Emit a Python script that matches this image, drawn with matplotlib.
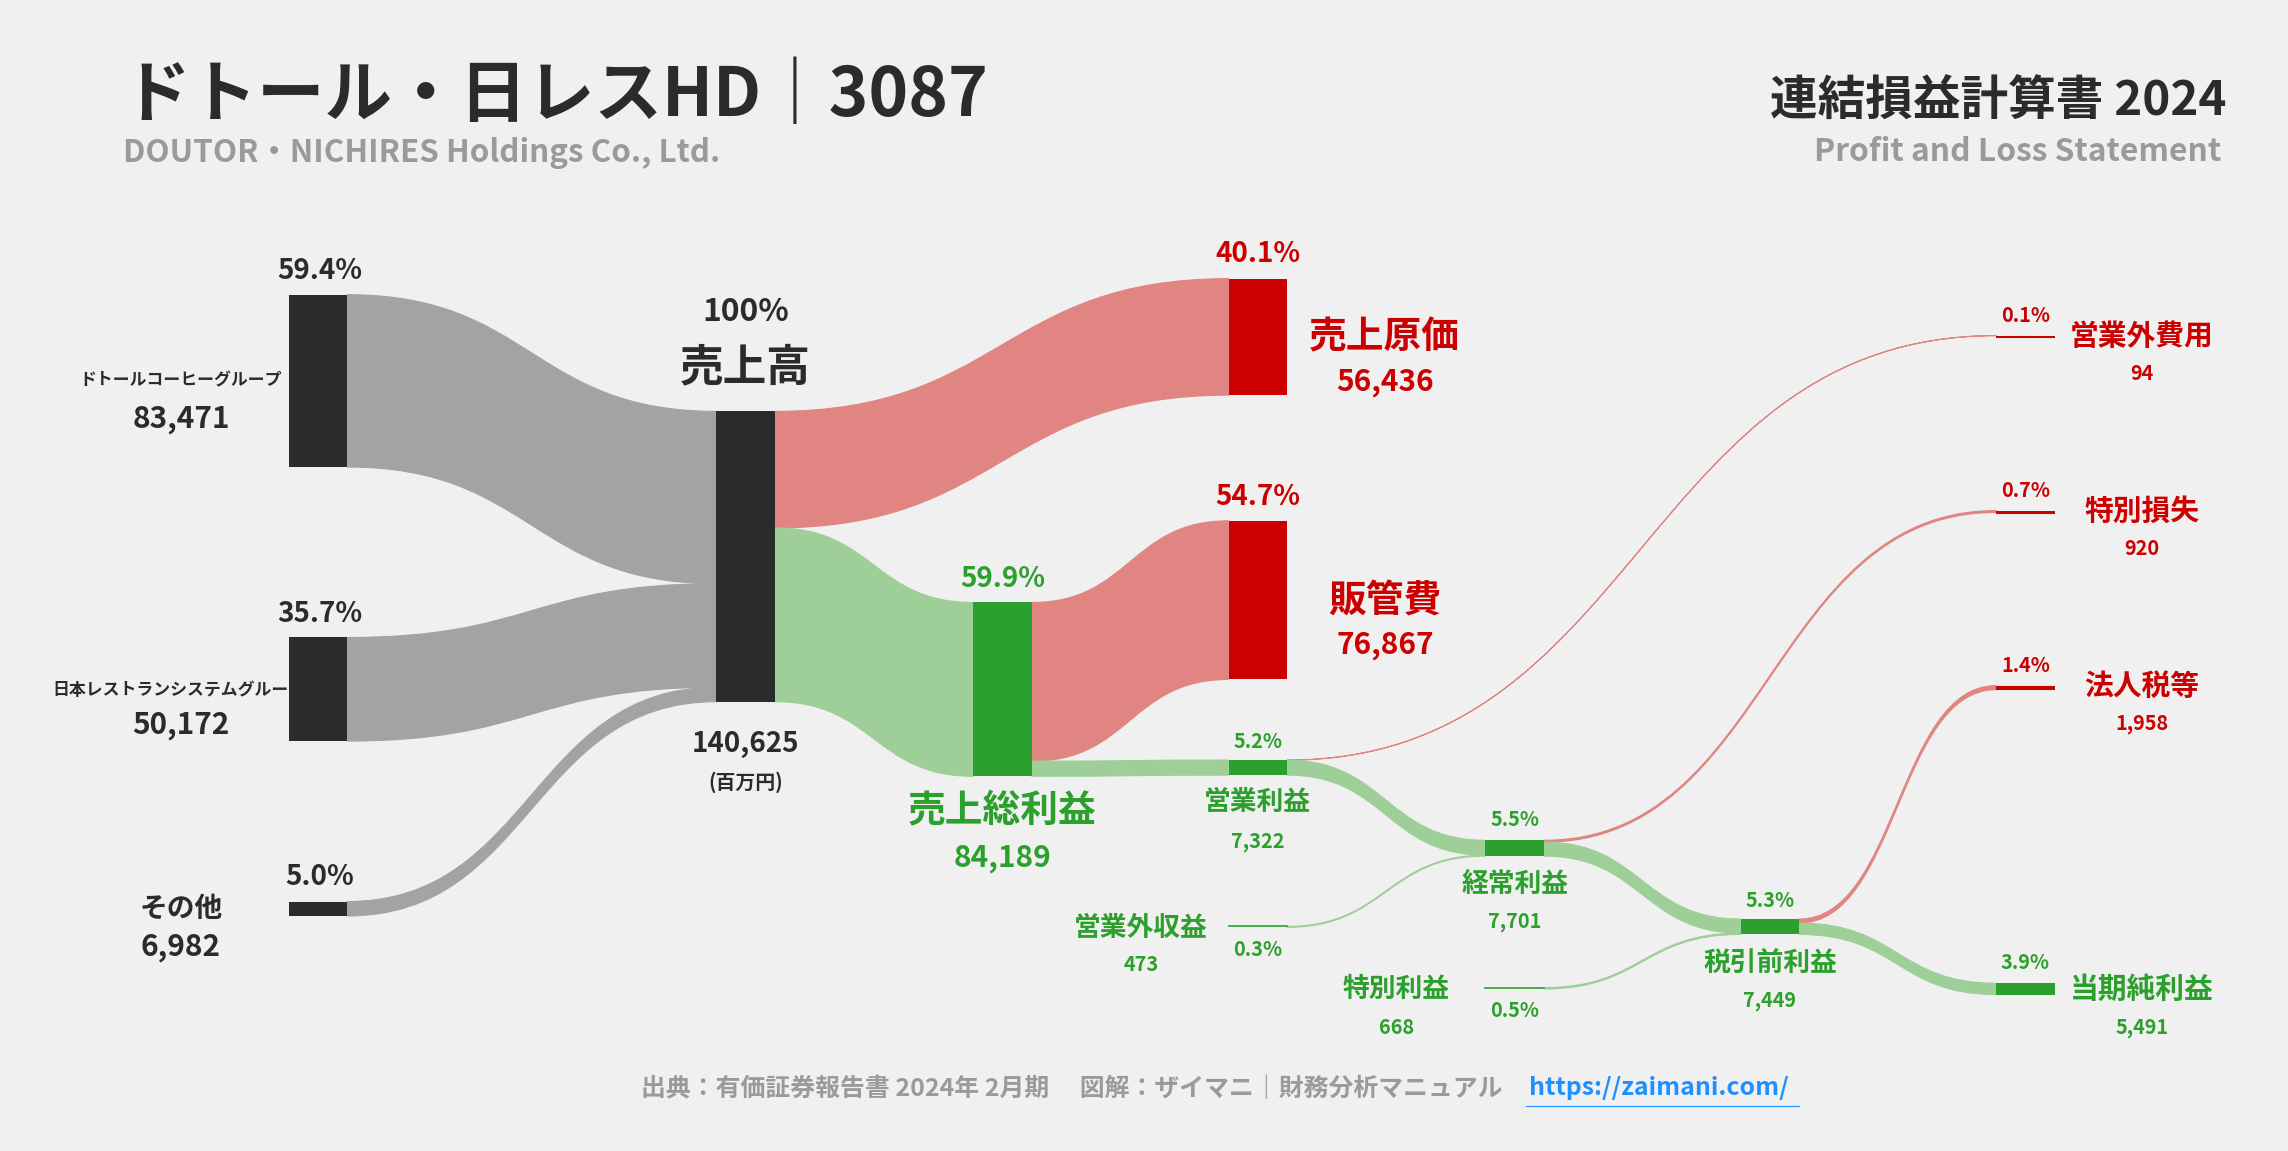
import matplotlib
matplotlib.use("Agg")
import matplotlib.pyplot as plt
from matplotlib.path import Path
from matplotlib.patches import PathPatch, Rectangle

# ---------------- data (百万円) ----------------
segment_names = ["ドトールコーヒーグループ", "日本レストランシステムグルー", "その他"]
segment_values = [83471, 50172, 6982]
revenue = 140625
cogs = 56436
gross = 84189
sga = 76867
op_income = 7322
nonop_income = 473
nonop_expense = 94
ordinary = 7701
special_gain = 668
special_loss = 920
pretax = 7449
tax = 1958
net = 5491

FONT = "Noto Sans CJK JP"
plt.rcParams["font.family"] = FONT
BG = "#f0f0f0"
DARK = "#2b2b2b"
RED = "#cc0000"
GREEN = "#2ca02c"
GRAYF = "#a3a3a3"
REDF = "#e08582"
GREENF = "#9ecf98"
S = 1.43

W, H = 1568, 789
fig = plt.figure(figsize=(22.88, 11.51), dpi=100, facecolor=BG)
ax = fig.add_axes([0, 0, 1, 1])
ax.set_xlim(0, W); ax.set_ylim(H, 0); ax.axis("off"); ax.set_facecolor(BG)

k = 199.0 / revenue  # px per unit
NW = 40

def pct(v):
    return f"{v / revenue * 100:.1f}%"

def node(x, top, v, color):
    h = max(v * k, 2)
    ax.add_patch(Rectangle((x, top), NW, h, color=color, zorder=3, lw=0))
    return h

def band(x0, t0, x1, t1, v, color, alpha=1.0):
    h = v * k
    xm = (x0 + x1) / 2
    verts = [(x0, t0), (xm, t0), (xm, t1), (x1, t1),
             (x1, t1 + h), (xm, t1 + h), (xm, t0 + h), (x0, t0 + h), (x0, t0)]
    codes = [Path.MOVETO, Path.CURVE4, Path.CURVE4, Path.CURVE4,
             Path.LINETO, Path.CURVE4, Path.CURVE4, Path.CURVE4, Path.CLOSEPOLY]
    ax.add_patch(PathPatch(Path(verts, codes), facecolor=color, edgecolor=color,
                           lw=0.8, alpha=alpha, zorder=2))

def t(x, y, s, size, color=DARK, ha="center", va="center", weight="bold"):
    ax.text(x, y, s, fontsize=size * S, color=color, ha=ha, va=va, fontweight=weight, family=FONT)

X0, X1, X2, X3, X4, X5, X6 = 198, 491, 667, 842, 1018, 1193, 1368

seg_tops = [202, 437, 618]
rev_top = 282
acc = rev_top
for name, v, top in zip(segment_names, segment_values, seg_tops):
    node(X0, top, v, DARK)
    band(X0 + NW, top, X1, acc, v, GRAYF)
    acc += v * k
node(X1, rev_top, revenue, DARK)

cogs_top = 191
gross_top = 413
node(X3, cogs_top, cogs, RED)
band(X1 + NW, rev_top, X3, cogs_top, cogs, REDF)
node(X2, gross_top, gross, GREEN)
band(X1 + NW, rev_top + cogs * k, X2, gross_top, gross, GREENF)

sga_top = 357
op_top = 521
node(X3, sga_top, sga, RED)
band(X2 + NW, gross_top, X3, sga_top, sga, REDF)
node(X3, op_top, op_income, GREEN)
band(X2 + NW, gross_top + sga * k, X3, op_top, op_income, GREENF)

ord_top = 576
nexp_top = 230
node(X6, nexp_top, nonop_expense, RED)
band(X3 + NW, op_top, X6, nexp_top, nonop_expense, REDF)
band(X3 + NW, op_top + nonop_expense * k, X4, ord_top, op_income - nonop_expense, GREENF)
ninc_top = 635
ax.plot([X3, X3 + NW], [ninc_top, ninc_top], color=GREEN, lw=1.2, zorder=3)
band(X3 + NW, ninc_top, X4, ord_top + (op_income - nonop_expense) * k, nonop_income, GREENF)
node(X4, ord_top, ordinary, GREEN)

pre_top = 630
sloss_top = 350
node(X6, sloss_top, special_loss, RED)
band(X4 + NW, ord_top, X6, sloss_top, special_loss, REDF)
band(X4 + NW, ord_top + special_loss * k, X5, pre_top, ordinary - special_loss, GREENF)
sg_top = 677
ax.plot([X4, X4 + NW], [sg_top, sg_top], color=GREEN, lw=1.2, zorder=3)
band(X4 + NW, sg_top, X5, pre_top + (ordinary - special_loss) * k, special_gain, GREENF)
node(X5, pre_top, pretax, GREEN)

tax_top = 470
net_top = 674
node(X6, tax_top, tax, RED)
band(X5 + NW, pre_top, X6, tax_top, tax, REDF)
node(X6, net_top, net, GREEN)
band(X5 + NW, pre_top + tax * k, X6, net_top, net, GREENF)

# ---------------- labels ----------------
t(84, 66, "ドトール・日レスHD｜3087", 34, ha="left")
t(84, 105, "DOUTOR・NICHIRES Holdings Co., Ltd.", 15.8, color="#9a9a9a", ha="left")
t(1526, 70, "連結損益計算書 2024", 24, ha="right")
t(1522, 104, "Profit and Loss Statement", 16, color="#9a9a9a", ha="right")

t(219, 186, pct(segment_values[0]), 14)
t(124, 261, segment_names[0], 8.5)
t(124, 287, f"{segment_values[0]:,}", 15)
t(219, 421, pct(segment_values[1]), 14)
t(117, 473, segment_names[1], 8.5)
t(124, 497, f"{segment_values[1]:,}", 15)
t(219, 601, pct(segment_values[2]), 14)
t(124, 623, segment_names[2], 14)
t(124, 649, f"{segment_values[2]:,}", 15)

t(511, 214, "100%", 16)
t(511, 252, "売上高", 22)
t(511, 510, f"{revenue:,}", 14)
t(511, 536, "(百万円)", 10)

t(862, 174, pct(cogs), 14, color=RED)
t(949, 231, "売上原価", 19, color=RED)
t(949, 262, f"{cogs:,}", 15, color=RED)
t(862, 341, pct(sga), 14, color=RED)
t(949, 411, "販管費", 19, color=RED)
t(949, 442, f"{sga:,}", 15, color=RED)

t(687, 397, pct(gross), 14, color=GREEN)
t(687, 555, "売上総利益", 19, color=GREEN)
t(687, 588, f"{gross:,}", 15, color=GREEN)

t(862, 508, pct(op_income), 10, color=GREEN)
t(862, 550, "営業利益", 13.5, color=GREEN)
t(862, 577, f"{op_income:,}", 10, color=GREEN)

t(782, 636, "営業外収益", 13.5, color=GREEN)
t(782, 661, f"{nonop_income:,}", 10, color=GREEN)
t(862, 651, pct(nonop_income), 10, color=GREEN)

t(1038, 562, pct(ordinary), 10, color=GREEN)
t(1038, 606, "経常利益", 13.5, color=GREEN)
t(1038, 632, f"{ordinary:,}", 10, color=GREEN)

t(957, 678, "特別利益", 13.5, color=GREEN)
t(957, 704, f"{special_gain:,}", 10, color=GREEN)
t(1038, 693, pct(special_gain), 10, color=GREEN)

t(1213, 617, pct(pretax), 10, color=GREEN)
t(1213, 660, "税引前利益", 13.5, color=GREEN)
t(1213, 686, f"{pretax:,}", 10, color=GREEN)

for top, v, name in [(nexp_top, nonop_expense, "営業外費用"), (sloss_top, special_loss, "特別損失"),
                     (tax_top, tax, "法人税等")]:
    t(1388, top - 14, pct(v), 10, color=RED)
    t(1468, top, name, 14.5, color=RED)
    t(1468, top + 26, f"{v:,}", 10, color=RED)
t(1388, net_top - 14, pct(net), 10, color=GREEN)
t(1468, net_top + 4, "当期純利益", 14.5, color=GREEN)
t(1468, net_top + 30, f"{net:,}", 10, color=GREEN)

t(1030, 746, "出典：有価証券報告書 2024年 2月期　 図解：ザイマニ｜財務分析マニュアル", 12.5, color="#9a9a9a", ha="right")
t(1048, 746, "https://zaimani.com/", 12.5, color="#1e90ff", ha="left")
ax.plot([1046, 1233], [758, 758], color="#1e90ff", lw=0.8)

fig.savefig("out.png", dpi=100, facecolor=BG)
